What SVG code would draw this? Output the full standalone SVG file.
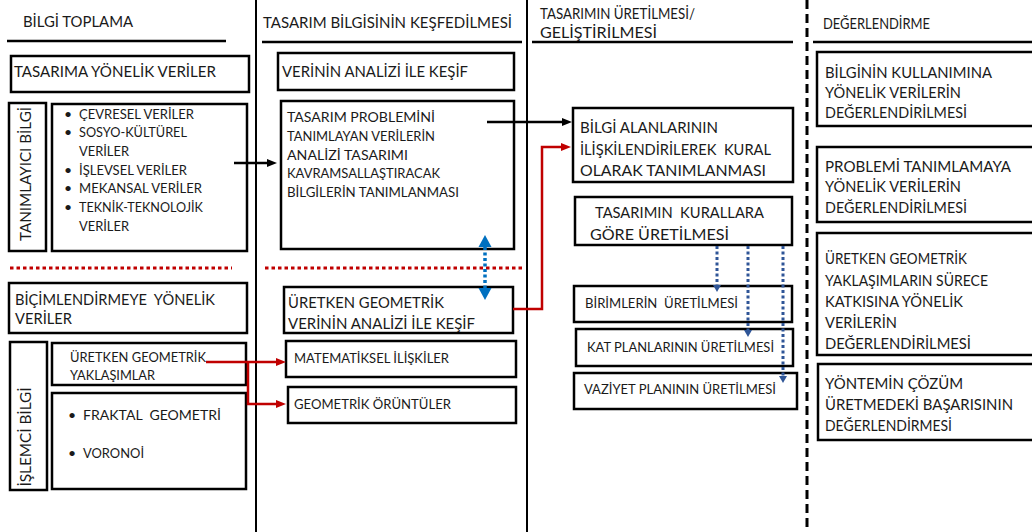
<svg xmlns="http://www.w3.org/2000/svg" width="1032" height="532" viewBox="0 0 1032 532">
<style>
.box{fill:#fff;stroke:#000;stroke-width:2.5}
text{font-family:Lato,"Open Sans","Liberation Sans",sans-serif;fill:#1a1a1a}
.h{font-size:16px}
.m{font-size:15.5px}
.s{font-size:14px}
.div{stroke:#000;stroke-width:2;fill:none}
.ul{stroke:#000;stroke-width:2.5}
.rdot{stroke:#C00000;stroke-width:3;stroke-dasharray:3.5 3;fill:none}
.ck{stroke:#000;stroke-width:2.5;fill:none}
.cr{stroke:#C00000;stroke-width:2.5;fill:none}
.cb{stroke:#0070C0;stroke-width:3.5;stroke-dasharray:3 2.5;fill:none}
.cd{stroke:#2F5597;stroke-width:3;stroke-dasharray:3 2.5;fill:none}
.hb{fill:#0070C0}
.hd{fill:#2F5597}
</style>
<defs>
<marker id="ak" markerUnits="userSpaceOnUse" markerWidth="10" markerHeight="8" refX="3" refY="4" orient="auto"><path d="M0,0 L10,4 L0,8 z" fill="#000"/></marker>
<marker id="ar" markerUnits="userSpaceOnUse" markerWidth="10" markerHeight="8" refX="3" refY="4" orient="auto"><path d="M0,0 L10,4 L0,8 z" fill="#C00000"/></marker>
<path id="headB" d="M-6.5,0 L6.5,0 L0,12 z"/>
<path id="headD" d="M-4,0 L4,0 L0,7 z"/>
</defs>
<rect width="1032" height="532" fill="#fff"/>

<g id="layout">
<line class="div" x1="256" y1="0" x2="256" y2="532"/>
<line class="div" x1="527" y1="0" x2="527" y2="532"/>
<line x1="807" y1="0" x2="807" y2="532" stroke="#000" stroke-width="3" stroke-dasharray="9 5"/>
<line class="ul" x1="7" y1="41" x2="226" y2="41"/>
<line class="ul" x1="262" y1="42" x2="522" y2="42"/>
<line class="ul" x1="532" y1="42" x2="793" y2="42"/>
<line class="ul" x1="813" y1="42" x2="1032" y2="42"/>
<line class="rdot" x1="10" y1="268" x2="232" y2="268"/>
<line class="rdot" x1="265" y1="268" x2="522" y2="268"/>
<text class="h" x="23" y="27" textLength="110" lengthAdjust="spacingAndGlyphs">BİLGİ TOPLAMA</text>
<text class="h" x="263" y="28" textLength="249" lengthAdjust="spacingAndGlyphs">TASARIM BİLGİSİNİN KEŞFEDİLMESİ</text>
<text class="h" x="540" y="19" textLength="155" lengthAdjust="spacingAndGlyphs">TASARIMIN ÜRETİLMESİ/</text>
<text class="h" x="540" y="38" textLength="117" lengthAdjust="spacingAndGlyphs">GELİŞTİRİLMESİ</text>
<text class="h" x="823" y="29" textLength="107" lengthAdjust="spacingAndGlyphs">DEĞERLENDİRME</text>
</g>

<g id="tasarima-yonelik">
<rect class="box" x="11" y="56" width="238" height="36"/>
<text class="h" x="14" y="77" textLength="202" lengthAdjust="spacingAndGlyphs">TASARIMA YÖNELİK VERİLER</text>
</g>
<g id="tanimlayici-bilgi">
<rect class="box" x="9" y="103" width="37" height="148"/>
<text class="m" transform="translate(31,174) rotate(-90)" text-anchor="middle" textLength="134" lengthAdjust="spacingAndGlyphs">TANIMLAYICI BİLGİ</text>
</g>
<g id="veriler-listesi">
<rect class="box" x="52" y="104" width="195" height="147"/>
<text class="s" x="64" y="119">•</text>
<text class="s" x="64" y="137">•</text>
<text class="s" x="64" y="175">•</text>
<text class="s" x="64" y="193">•</text>
<text class="s" x="64" y="212">•</text>
<text class="s" x="79" y="119" textLength="115" lengthAdjust="spacingAndGlyphs">ÇEVRESEL VERİLER</text>
<text class="s" x="79" y="137" textLength="108" lengthAdjust="spacingAndGlyphs">SOSYO-KÜLTÜREL</text>
<text class="s" x="79" y="156" textLength="50" lengthAdjust="spacingAndGlyphs">VERİLER</text>
<text class="s" x="79" y="175" textLength="108" lengthAdjust="spacingAndGlyphs">İŞLEVSEL VERİLER</text>
<text class="s" x="79" y="193" textLength="123" lengthAdjust="spacingAndGlyphs">MEKANSAL VERİLER</text>
<text class="s" x="79" y="212" textLength="124" lengthAdjust="spacingAndGlyphs">TEKNİK-TEKNOLOJİK</text>
<text class="s" x="79" y="231" textLength="50" lengthAdjust="spacingAndGlyphs">VERİLER</text>
</g>
<g id="bicimlendirmeye-yonelik">
<rect class="box" x="9" y="283" width="238" height="50"/>
<text class="h" x="15" y="305" textLength="200" lengthAdjust="spacingAndGlyphs" xml:space="preserve">BİÇİMLENDİRMEYE  YÖNELİK</text>
<text class="h" x="15" y="324" textLength="57" lengthAdjust="spacingAndGlyphs">VERİLER</text>
</g>
<g id="islemci-bilgi">
<rect class="box" x="10" y="342" width="37" height="148"/>
<text class="m" transform="translate(31,437) rotate(-90)" text-anchor="middle" textLength="99" lengthAdjust="spacingAndGlyphs">İŞLEMCİ BİLGİ</text>
</g>
<g id="uretken-yaklasimlar">
<rect class="box" x="52" y="343" width="194" height="42"/>
<text class="s" x="70" y="362" textLength="136" lengthAdjust="spacingAndGlyphs">ÜRETKEN GEOMETRİK</text>
<text class="s" x="70" y="380" textLength="85" lengthAdjust="spacingAndGlyphs">YAKLAŞIMLAR</text>
</g>
<g id="fraktal-voronoi">
<rect class="box" x="52" y="393" width="194" height="96"/>
<text class="s" x="68" y="420">•</text>
<text class="s" x="68" y="458">•</text>
<text class="s" x="83" y="420" textLength="138" lengthAdjust="spacingAndGlyphs" xml:space="preserve">FRAKTAL  GEOMETRİ</text>
<text class="s" x="83" y="458" textLength="61" lengthAdjust="spacingAndGlyphs">VORONOİ</text>
</g>

<g id="verinin-analizi">
<rect class="box" x="278" y="53" width="236" height="37"/>
<text class="h" x="282" y="77" textLength="186" lengthAdjust="spacingAndGlyphs">VERİNİN ANALİZİ İLE KEŞİF</text>
</g>
<g id="tasarim-problemi">
<rect class="box" x="281" y="101" width="233" height="148"/>
<text class="s" x="287" y="122" textLength="148" lengthAdjust="spacingAndGlyphs">TASARIM PROBLEMİNİ</text>
<text class="s" x="287" y="141" textLength="148" lengthAdjust="spacingAndGlyphs">TANIMLAYAN VERİLERİN</text>
<text class="s" x="287" y="160" textLength="121" lengthAdjust="spacingAndGlyphs">ANALİZİ TASARIMI</text>
<text class="s" x="287" y="178" textLength="153" lengthAdjust="spacingAndGlyphs">KAVRAMSALLAŞTIRACAK</text>
<text class="s" x="287" y="197" textLength="172" lengthAdjust="spacingAndGlyphs">BİLGİLERİN TANIMLANMASI</text>
</g>
<g id="uretken-veri-analizi">
<rect class="box" x="284" y="287" width="229" height="46"/>
<text class="h" x="288" y="308" textLength="156" lengthAdjust="spacingAndGlyphs">ÜRETKEN GEOMETRİK</text>
<text class="h" x="288" y="329" textLength="187" lengthAdjust="spacingAndGlyphs">VERİNİN ANALİZİ İLE KEŞİF</text>
</g>
<g id="matematiksel">
<rect class="box" x="286" y="341" width="230" height="36"/>
<text class="s" x="294" y="363" textLength="155" lengthAdjust="spacingAndGlyphs">MATEMATİKSEL İLİŞKİLER</text>
</g>
<g id="geometrik-oruntuler">
<rect class="box" x="288" y="387" width="228" height="36"/>
<text class="s" x="294" y="409" textLength="157" lengthAdjust="spacingAndGlyphs">GEOMETRİK ÖRÜNTÜLER</text>
</g>

<g id="bilgi-alanlari">
<rect class="box" x="573" y="108" width="220" height="74"/>
<text class="m" x="580" y="133" textLength="138" lengthAdjust="spacingAndGlyphs">BİLGİ ALANLARININ</text>
<text class="m" x="580" y="155" textLength="191" lengthAdjust="spacingAndGlyphs" xml:space="preserve">İLİŞKİLENDİRİLEREK  KURAL</text>
<text class="m" x="580" y="176" textLength="186" lengthAdjust="spacingAndGlyphs">OLARAK TANIMLANMASI</text>
</g>
<g id="kurallara-gore">
<rect class="box" x="575" y="197" width="217" height="48"/>
<text class="m" x="595" y="218" textLength="169" lengthAdjust="spacingAndGlyphs" xml:space="preserve">TASARIMIN  KURALLARA</text>
<text class="m" x="590" y="240" textLength="139" lengthAdjust="spacingAndGlyphs">GÖRE ÜRETİLMESİ</text>
</g>
<g id="birimler">
<rect class="box" x="574" y="286" width="218" height="36"/>
<text class="s" x="585" y="308" textLength="153" lengthAdjust="spacingAndGlyphs" xml:space="preserve">BİRİMLERİN  ÜRETİLMESİ</text>
</g>
<g id="kat-planlari">
<rect class="box" x="576" y="329" width="217" height="37"/>
<text class="s" x="587" y="352" textLength="187" lengthAdjust="spacingAndGlyphs">KAT PLANLARININ ÜRETİLMESİ</text>
</g>
<g id="vaziyet-plani">
<rect class="box" x="574" y="373" width="223" height="36"/>
<text class="s" x="584" y="394" textLength="192" lengthAdjust="spacingAndGlyphs">VAZİYET PLANININ ÜRETİLMESİ</text>
</g>

<g id="deg-bilgi">
<rect class="box" x="817" y="52" width="230" height="74"/>
<text class="m" x="825" y="78" textLength="167" lengthAdjust="spacingAndGlyphs">BİLGİNİN KULLANIMINA</text>
<text class="m" x="825" y="98" textLength="136" lengthAdjust="spacingAndGlyphs">YÖNELİK VERİLERİN</text>
<text class="m" x="825" y="118" textLength="142" lengthAdjust="spacingAndGlyphs">DEĞERLENDİRİLMESİ</text>
</g>
<g id="deg-problem">
<rect class="box" x="817" y="147" width="230" height="75"/>
<text class="m" x="825" y="172" textLength="186" lengthAdjust="spacingAndGlyphs">PROBLEMİ TANIMLAMAYA</text>
<text class="m" x="825" y="192" textLength="136" lengthAdjust="spacingAndGlyphs">YÖNELİK VERİLERİN</text>
<text class="m" x="825" y="213" textLength="142" lengthAdjust="spacingAndGlyphs">DEĞERLENDİRİLMESİ</text>
</g>
<g id="deg-uretken">
<rect class="box" x="817" y="233" width="230" height="122"/>
<text class="m" x="825" y="264" textLength="142" lengthAdjust="spacingAndGlyphs">ÜRETKEN GEOMETRİK</text>
<text class="m" x="825" y="286" textLength="163" lengthAdjust="spacingAndGlyphs">YAKLAŞIMLARIN SÜRECE</text>
<text class="m" x="825" y="307" textLength="138" lengthAdjust="spacingAndGlyphs">KATKISINA YÖNELİK</text>
<text class="m" x="825" y="328" textLength="72" lengthAdjust="spacingAndGlyphs">VERİLERİN</text>
<text class="m" x="825" y="349" textLength="146" lengthAdjust="spacingAndGlyphs">DEĞERLENDİRİLMESİ</text>
</g>
<g id="deg-yontem">
<rect class="box" x="818" y="364" width="230" height="76"/>
<text class="m" x="825" y="389" textLength="138" lengthAdjust="spacingAndGlyphs">YÖNTEMİN ÇÖZÜM</text>
<text class="m" x="825" y="410" textLength="188" lengthAdjust="spacingAndGlyphs">ÜRETMEDEKİ BAŞARISININ</text>
<text class="m" x="825" y="431" textLength="127" lengthAdjust="spacingAndGlyphs">DEĞERLENDİRMESİ</text>
</g>

<g id="connectors">
<line class="ck" x1="234" y1="163" x2="270" y2="163" marker-end="url(#ak)"/>
<line class="ck" x1="487" y1="122" x2="565" y2="122" marker-end="url(#ak)"/>
<polyline class="cr" points="513,309 542,309 542,147 564,147" marker-end="url(#ar)"/>
<line class="cr" x1="206" y1="362" x2="279" y2="362" marker-end="url(#ar)"/>
<polyline class="cr" points="248,362 248,404 279,404" marker-end="url(#ar)"/>
<line class="cb" x1="485" y1="247" x2="485" y2="288"/>
<use href="#headB" class="hb" transform="translate(485,247) scale(1,-1)"/>
<use href="#headB" class="hb" transform="translate(485,288)"/>
<line class="cd" x1="717" y1="246" x2="717" y2="285"/>
<line class="cd" x1="748" y1="246" x2="748" y2="330"/>
<line class="cd" x1="783" y1="246" x2="783" y2="376"/>
<use href="#headD" class="hd" transform="translate(717,285)"/>
<use href="#headD" class="hd" transform="translate(748,330)"/>
<use href="#headD" class="hd" transform="translate(783,376)"/>
</g>
</svg>
